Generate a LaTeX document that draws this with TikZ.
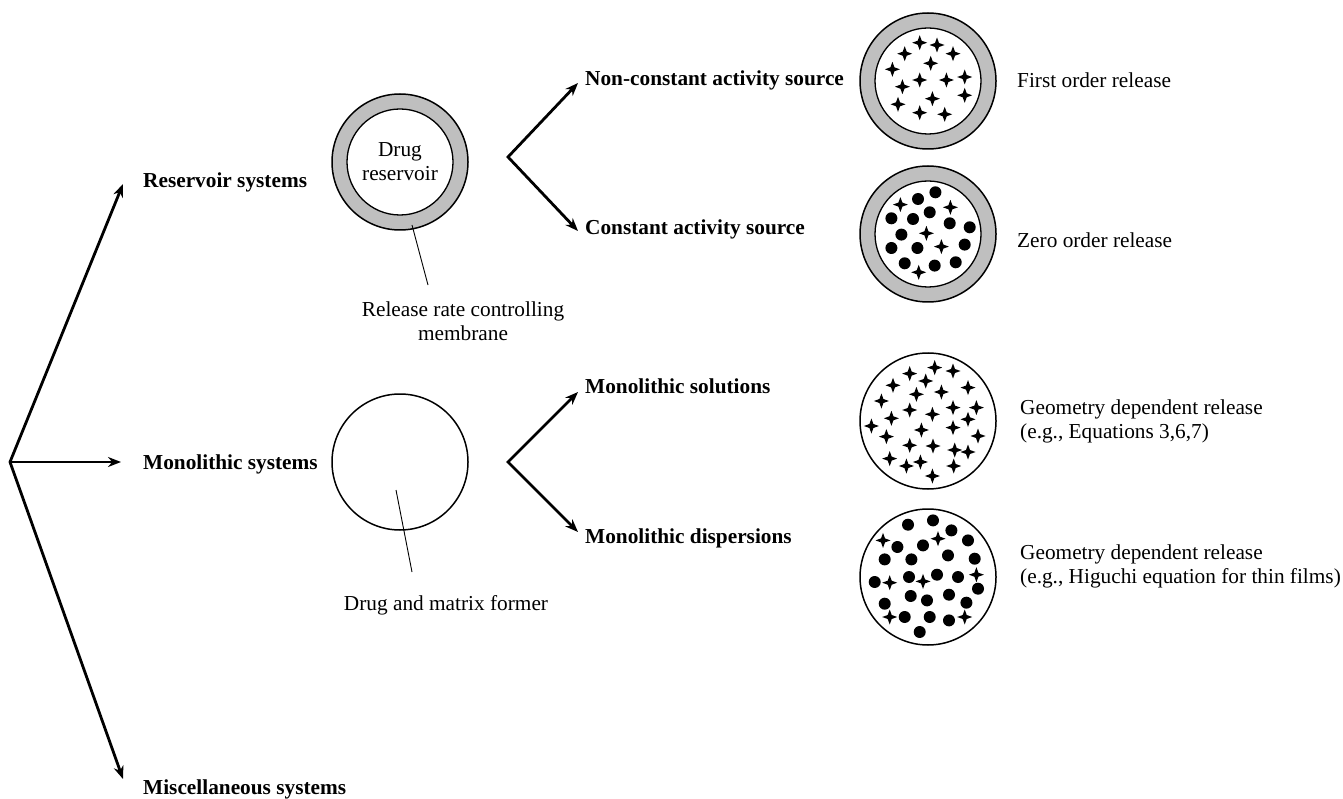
\documentclass[tikz,border=0pt]{standalone}
\usepackage{fontspec}
\setmainfont{Liberation Serif}
\usetikzlibrary{arrows.meta}
\tikzset{
  branch/.style={line width=2.8pt,line join=miter},
  tip/.tip={Stealth[length=13pt,width=10pt]},
  head/.style={font=\fontsize{21.3}{24}\selectfont\bfseries,anchor=west,inner sep=0pt},
  note/.style={font=\fontsize{21.3}{24}\selectfont,inner sep=0pt},
  ring/.style={circle,draw,line width=1.5pt,fill=gray!50,minimum size=136pt,inner sep=0pt},
  core/.style={circle,draw,line width=1.3pt,fill=white,minimum size=106pt,inner sep=0pt},
  plain/.style={circle,draw,line width=1.5pt,fill=white,minimum size=136pt,inner sep=0pt},
  leader/.style={line width=0.9pt},
  drugstar/.pic={\fill (0,-7.5) -- (2,-2) -- (7.5,0) -- (2,2) -- (0,7.5) -- (-2,2) -- (-7.5,0) -- (-2,-2) -- cycle;},
}

\begin{document}
\begin{tikzpicture}[x=1pt,y=-1pt]
 \useasboundingbox (0,0) rectangle (1343,799);
 % tree on the left
 \coordinate (root) at (10,462);
 \coordinate (tipres) at (123,184);
 \coordinate (tipmono) at (121,462);
 \coordinate (tipmisc) at (123,779);
 \node[head] (res) at (143,182) {Reservoir systems};
 \node[head] (mono) at (143,464) {Monolithic systems};
 \node[head] (misc) at (143,789) {Miscellaneous systems};
 \draw[branch,tip-tip] (tipres) -- (root) -- (tipmisc);
 \draw[branch,-tip] (root) -- (tipmono);

 % reservoir device
 \node[ring] (resv) at (400,162) {};
 \node[core,align=center,note] (drug) at (resv.center) {Drug\\reservoir};
 \coordinate (membtop) at (412,225);
 \coordinate (membend) at (428,285);
 \node[note,align=center] (memb) at (463,321) {Release rate controlling\\membrane};
 \draw[leader] (membtop) -- (membend);

 % monolithic device
 \node[plain] (matx) at (400,462) {};
 \coordinate (matxtop) at (396,490);
 \coordinate (matxend) at (412,572);
 \node[note] (former) at (446,605) {Drug and matrix former};
 \draw[leader] (matxtop) -- (matxend);

 % chevrons
 \coordinate (v1) at (508,157);
 \coordinate (t1) at (578,83);
 \coordinate (t2) at (578,231);
 \draw[branch,tip-tip] (t1) -- (v1) -- (t2);
 \coordinate (v2) at (508,462);
 \coordinate (t3) at (578,392);
 \coordinate (t4) at (578,532);
 \draw[branch,tip-tip] (t3) -- (v2) -- (t4);
 \node[head] (ncas) at (585,80) {Non-constant activity source};
 \node[head] (cas) at (585,229) {Constant activity source};
 \node[head] (msol) at (585,386) {Monolithic solutions};
 \node[head] (mdis) at (585,538) {Monolithic dispersions};

 % non-constant source
 \node[ring] (nc) at (928,81) {};
 \node[core] at (nc.center) {};
 \begin{scope}[shift={(nc.center)}]
  \foreach \x/\y in {-8.3/-38.3,9/-36,-23.3/-27.3,25/-27.3,-35.6/-11.7,2.7/-17.7,-8.3/-1,18.4/-1,
                     36.7/-4,-25.6/5.7,4.4/17.7,36.7/14.3,-30/23.3,-8.3/31.7,16.7/33.3}
   \pic at (\x,\y) {drugstar};
 \end{scope}

 % constant source
 \node[ring] (cs) at (928,234) {};
 \node[core] at (cs.center) {};
 \begin{scope}[shift={(cs.center)}]
  \foreach \x/\y in {-27.6/-29.4,22.4/-26.7,-1.6/-0.7,13.4/12.6,-9.3/38.3}
   \pic at (\x,\y) {drugstar};
  \foreach \x/\y in {-10/-35,7.4/-41.7,-36.6/-15.7,-15/-15,1.7/-21.7,21.7/-10.7,41.7/-6.7,-26.6/0.6,
                     -36.6/14,-10.6/14,36.7/10.6,-23.3/29.3,6.7/31.6,27.7/28.3}
   \fill (\x,\y) circle (6);
 \end{scope}

 % monolithic solution
 \node[plain] (sol) at (928,421) {};
 \begin{scope}[shift={(sol.center)}]
  \foreach \x/\y in {6.7/-53.4,25/-50,-18.3/-47.4,-2.3/-40,-35/-35.7,40/-33.4,-11.6/-26.7,13.4/-29,
                     -46.6/-20,-18.3/-11,4.4/-6.7,25/-13.4,48.4/-13.4,-36.6/-2.7,40/-1.7,-56.6/5,
                     -6.6/9,25/6.6,-41.6/15.6,50/15,-18.3/24.3,5/25,26.7/29,40/31,-38.3/37.6,
                     -21.6/45,-7.6/41,25.7/45,4.4/55}
   \pic at (\x,\y) {drugstar};
 \end{scope}

 % monolithic dispersion
 \node[plain] (dis) at (928,577) {};
 \begin{scope}[shift={(dis.center)}]
  \foreach \x/\y in {-45/-36.6,10/-38.3,-38.3/5.7,-5/4.4,48.4/-2.3,-38.3/40,36.7/40}
   \pic at (\x,\y) {drugstar};
  \foreach \x/\y in {-20/-52.3,5/-56.6,23.4/-46.6,40/-36.6,-30.6/-30,-5/-31.6,20/-21.6,46.7/-18.3,
                     -43.3/-17.6,-16.6/-17.6,-53.3/5,-19/0,9/-2.3,30/0,50/11.7,-17.3/19,-1/23.4,
                     21/17.7,38.4/25.7,-43.3/26.7,-23.3/40,1.7/40,21/43.4,-8.3/55}
   \fill (\x,\y) circle (6);
 \end{scope}

 % release kinetics
 \node[note,anchor=west] (first) at (1017,80) {First order release};
 \node[note,anchor=west] (zero) at (1017,240) {Zero order release};
 \node[note,anchor=west,align=left] (geo1) at (1020,421) {Geometry dependent release\\(e.g., Equations 3,6,7)};
 \node[note,anchor=west,align=left] (geo2) at (1020,566) {Geometry dependent release\\(e.g., Higuchi equation for thin films)};
\end{tikzpicture}
\end{document}
